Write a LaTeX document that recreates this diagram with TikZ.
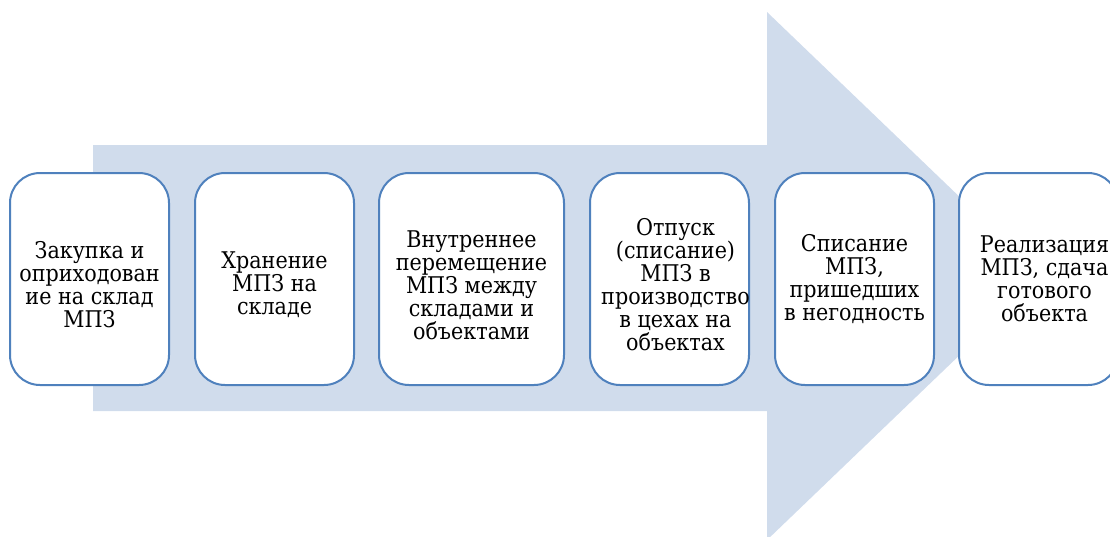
\documentclass[tikz,border=0pt]{standalone}
\usepackage{fontspec}
\newfontfamily\tnr{DejaVu Serif Condensed}
\definecolor{arrowfill}{RGB}{208,220,236}
\definecolor{boxline}{RGB}{79,129,189}
\begin{document}
\begin{tikzpicture}[x=1pt,y=-1pt,
  stepbox/.style={draw=boxline,line width=2pt,fill=white,rounded corners=30pt,
    minimum height=212pt,inner sep=0pt,anchor=north west},
  steptext/.style={align=center,inner sep=0pt,font=\tnr\fontsize{23}{23}\selectfont}]
\clip (0,0) rectangle (1110,536);
\fill[arrowfill] (93,145) -- (767,145) -- (767,12) -- (1042,276) -- (767,540) -- (767,411) -- (93,411) -- cycle;
\node[stepbox,minimum width=159pt] (b1) at (9,172) {};
\node[stepbox,minimum width=159pt] (b2) at (194,172) {};
\node[stepbox,minimum width=185pt] (b3) at (378,172) {};
\node[stepbox,minimum width=159pt] (b4) at (589,172) {};
\node[stepbox,minimum width=159pt] (b5) at (774,172) {};
\node[stepbox,minimum width=159pt] (b6) at (958,172) {};
\node[steptext] (t1) at ([yshift=-6pt]b1.center) {Закупка и\\оприходован\\ие на склад\\МПЗ};
\node[steptext] (t2) at ([yshift=-6pt]b2.center) {Хранение\\МПЗ на\\складе};
\node[steptext] (t3) at ([yshift=-6pt]b3.center) {Внутреннее\\перемещение\\МПЗ между\\складами и\\объектами};
\node[steptext] (t4) at ([xshift=6pt,yshift=-6pt]b4.center) {Отпуск\\(списание)\\МПЗ в\\производство\\в цехах на\\объектах};
\node[steptext] (t5) at ([yshift=0pt]b5.center) {Списание\\МПЗ,\\пришедших\\в негодность};
\node[steptext] (t6) at ([xshift=6pt,yshift=0pt]b6.center) {Реализация\\МПЗ, сдача\\готового\\объекта};
\end{tikzpicture}
\end{document}
